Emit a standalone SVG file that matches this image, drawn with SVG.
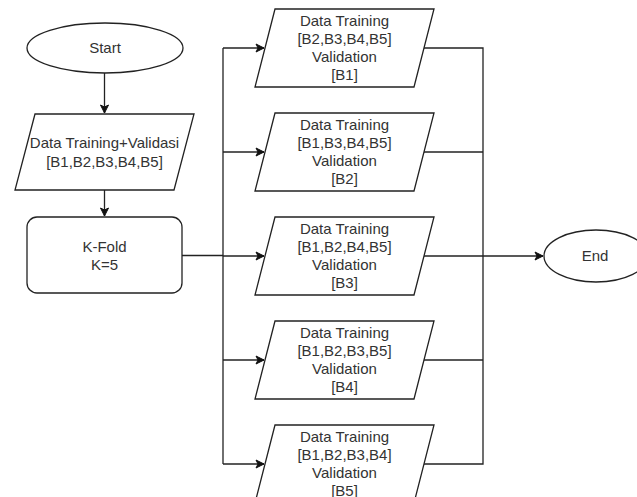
<svg xmlns="http://www.w3.org/2000/svg" width="637" height="497" viewBox="0 0 637 497">
  <defs>
    <marker id="arrow" markerWidth="10" markerHeight="10" refX="9" refY="5" orient="auto" markerUnits="userSpaceOnUse">
      <path d="M1,1 L9,5 L1,9 L3,5 Z" fill="#111" stroke="#111" stroke-width="1"/>
    </marker>
  </defs>
  <style>
    .shape { fill: #ffffff; stroke: #222; stroke-width: 1.3; }
    .conn { fill: none; stroke: #222; stroke-width: 1.3; }
    text { font-family: "Liberation Sans", Arial, sans-serif; font-size: 15px; fill: #333; text-anchor: middle; }
  </style>
  <rect x="0" y="0" width="637" height="497" fill="#ffffff"/>

  <g id="connectors">
    <path class="conn" d="M104.5,73 L104.5,113" marker-end="url(#arrow)"/>
    <path class="conn" d="M104.5,190 L104.5,216" marker-end="url(#arrow)"/>
    <path class="conn" d="M182,255.5 L223,255.5"/>
    <path class="conn" d="M223,48 L223,464"/>
    <path class="conn" d="M223,48 L264,48" marker-end="url(#arrow)"/>
    <path class="conn" d="M223,152 L264,152" marker-end="url(#arrow)"/>
    <path class="conn" d="M223,256 L264,256" marker-end="url(#arrow)"/>
    <path class="conn" d="M223,360 L264,360" marker-end="url(#arrow)"/>
    <path class="conn" d="M223,464 L264,464" marker-end="url(#arrow)"/>
    <path class="conn" d="M424,48 L483,48 L483,464 L424,464"/>
    <path class="conn" d="M424,152 L483,152"/>
    <path class="conn" d="M424,360 L483,360"/>
    <path class="conn" d="M424,256 L543,256" marker-end="url(#arrow)"/>
  </g>

  <g id="start">
    <ellipse class="shape" cx="105" cy="48" rx="78" ry="25"/>
    <text x="105" y="53">Start</text>
  </g>

  <g id="input">
    <polygon class="shape" points="35,114 194,114 174,190 15,190"/>
    <text x="104.5" y="148">Data Training+Validasi</text>
    <text x="104.5" y="167">[B1,B2,B3,B4,B5]</text>
  </g>

  <g id="kfold">
    <rect class="shape" x="27" y="217" width="155" height="76" rx="10" ry="10"/>
    <text x="104.5" y="252">K-Fold</text>
    <text x="104.5" y="270">K=5</text>
  </g>

  <g id="fold1">
    <polygon class="shape" points="275,9 434,9 414,87 255,87"/>
    <text x="344.5" y="26">Data Training</text>
    <text x="344.5" y="44">[B2,B3,B4,B5]</text>
    <text x="344.5" y="62">Validation</text>
    <text x="344.5" y="80">[B1]</text>
  </g>

  <g id="fold2">
    <polygon class="shape" points="275,113 434,113 414,191 255,191"/>
    <text x="344.5" y="130">Data Training</text>
    <text x="344.5" y="148">[B1,B3,B4,B5]</text>
    <text x="344.5" y="166">Validation</text>
    <text x="344.5" y="184">[B2]</text>
  </g>

  <g id="fold3">
    <polygon class="shape" points="275,217 434,217 414,295 255,295"/>
    <text x="344.5" y="234">Data Training</text>
    <text x="344.5" y="252">[B1,B2,B4,B5]</text>
    <text x="344.5" y="270">Validation</text>
    <text x="344.5" y="288">[B3]</text>
  </g>

  <g id="fold4">
    <polygon class="shape" points="275,321 434,321 414,399 255,399"/>
    <text x="344.5" y="338">Data Training</text>
    <text x="344.5" y="356">[B1,B2,B3,B5]</text>
    <text x="344.5" y="374">Validation</text>
    <text x="344.5" y="392">[B4]</text>
  </g>

  <g id="fold5">
    <polygon class="shape" points="275,425 434,425 414,503 255,503"/>
    <text x="344.5" y="442">Data Training</text>
    <text x="344.5" y="460">[B1,B2,B3,B4]</text>
    <text x="344.5" y="478">Validation</text>
    <text x="344.5" y="496">[B5]</text>
  </g>

  <g id="end">
    <ellipse class="shape" cx="596" cy="256" rx="52" ry="26"/>
    <text x="595" y="261">End</text>
  </g>
</svg>
